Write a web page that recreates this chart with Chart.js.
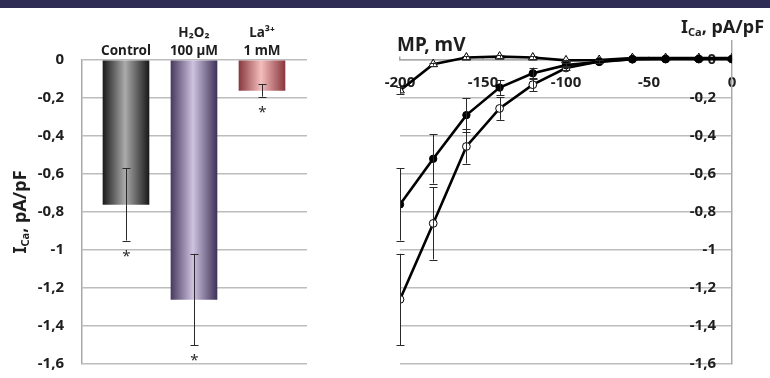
<!DOCTYPE html>
<html>
<head>
<meta charset="utf-8">
<script src="https://cdn.jsdelivr.net/npm/chart.js@4/dist/chart.umd.min.js"></script>
<style>
  html, body { margin: 0; padding: 0; background: #fff; }
  #wrap { position: relative; width: 770px; height: 378px; overflow: hidden; }
  #band { position: absolute; left: 0; top: 0; width: 770px; height: 8px; background: #2e2c54; }
  canvas { position: absolute; top: 0; }
  #bars { left: 0; }
  #iv { left: 385px; }
</style>
</head>
<body>
<div id="wrap">
  <canvas id="bars" width="385" height="378"></canvas>
  <canvas id="iv" width="385" height="378"></canvas>
  <div id="band"></div>
</div>
<script>
// ---- Bar panel: mean Ca current at -200 mV ----
const groups = [['Control'], ['H₂O₂', '100 µM'], ['La³⁺', '1 mM']];
const meanCurrent = [-0.76, -1.26, -0.16];
const meanSem = [0.19, 0.24, 0.033];
const yTicks = [0, -0.2, -0.4, -0.6, -0.8, -1, -1.2, -1.4, -1.6];
const yTickLabels = ['0', '-0,2', '-0,4', '-0,6', '-0,8', '-1', '-1,2', '-1,4', '-1,6'];

// ---- I-V panel ----
const voltage = [-200, -180, -160, -140, -120, -100, -80, -60, -40, -20, 0];
const controlIV = [-0.76, -0.52, -0.29, -0.145, -0.07, -0.027, -0.01, 0.004, 0.005, 0.005, 0.005];
const controlSem = [0.19, 0.13, 0.09, 0.04, 0.03, 0.012, 0.008, 0, 0, 0, 0];
const h2o2IV = [-1.26, -0.86, -0.455, -0.255, -0.13, -0.042, -0.008, 0.004, 0.005, 0.005, 0.005];
const h2o2Sem = [0.24, 0.19, 0.09, 0.06, 0.035, 0.012, 0.008, 0, 0, 0, 0];
const laIV = [-0.16, -0.022, 0.013, 0.018, 0.013, -0.002, 0.0, 0.01, 0.01, 0.01, 0.01];
const laSem = [0.017, 0.008, 0.006, 0.006, 0.006, 0.004, 0, 0, 0, 0, 0];
const voltTicks = [-200, -150, -100, -50, 0];
const voltTickLabels = ['-200', '-150', '-100', '-50', '0'];

const FONT = "'Noto Sans', 'Open Sans', 'DejaVu Sans', sans-serif";
const INK = '#1e1e1e';
const GRID = '#bdbdbd';
const AXIS = '#a9a9a9';

// cylinder-like shading for each bar: edge, centre, edge
const barShades = [
  ['#1c1c1c', '#ababab', '#1a1a1a'],
  ['#483b60', '#cec2e0', '#3f3458'],
  ['#893a40', '#f4bdbd', '#8a383d']
];
const BAR_W = 46;

// error bars (and optional significance stars) drawn from dataset values
const errorBars = {
  id: 'errorBars',
  afterDatasetsDraw(chart) {
    const { ctx } = chart;
    const ys = chart.scales.y;
    ctx.save();
    ctx.strokeStyle = '#2a2a2a';
    ctx.lineWidth = 1;
    chart.data.datasets.forEach((ds, di) => {
      if (!ds.errors) return;
      const meta = chart.getDatasetMeta(di);
      meta.data.forEach((el, i) => {
        const e = ds.errors[i];
        const val = ds.data[i].y;
        const x = Math.round(el.x) + 0.5;
        if (e) {
          const yT = ys.getPixelForValue(val + e);
          const yB = ys.getPixelForValue(val - e);
          ctx.beginPath();
          ctx.moveTo(x, yT); ctx.lineTo(x, yB);
          ctx.moveTo(x - 4, Math.round(yT) + 0.5); ctx.lineTo(x + 4, Math.round(yT) + 0.5);
          ctx.moveTo(x - 4, Math.round(yB) + 0.5); ctx.lineTo(x + 4, Math.round(yB) + 0.5);
          ctx.stroke();
        }
        if (ds.stars && ds.stars[i]) {
          const yB = ys.getPixelForValue(val - (e || 0));
          ctx.fillStyle = '#2a2a2a';
          ctx.font = '15px ' + FONT;
          ctx.textAlign = 'center';
          ctx.textBaseline = 'alphabetic';
          ctx.fillText('*', x, yB + 20);
        }
      });
    });
    ctx.restore();
  }
};

// text with a subscript part, e.g. I_Ca
function drawRich(ctx, parts, x, y, align) {
  let total = 0;
  parts.forEach(p => { ctx.font = 'bold ' + p.size + 'px ' + FONT; p.w = ctx.measureText(p.t).width; total += p.w; });
  let cx = align === 'center' ? x - total / 2 : x;
  ctx.textAlign = 'left';
  ctx.textBaseline = 'alphabetic';
  parts.forEach(p => {
    ctx.font = 'bold ' + p.size + 'px ' + FONT;
    ctx.fillText(p.t, cx, y + (p.dy || 0));
    cx += p.w;
  });
}
const currentTitle = () => [
  { t: 'I', size: 18 },
  { t: 'Ca', size: 11, dy: 3 },
  { t: ', pA/pF', size: 18 }
];

const barTitles = {
  id: 'barTitles',
  afterDraw(chart) {
    const { ctx, chartArea } = chart;
    ctx.save();
    ctx.fillStyle = INK;
    ctx.translate(26, (chartArea.top + chartArea.bottom) / 2);
    ctx.rotate(-Math.PI / 2);
    drawRich(ctx, currentTitle(), 0, 0, 'center');
    ctx.restore();
  }
};

const ivTitles = {
  id: 'ivTitles',
  afterDraw(chart) {
    const { ctx } = chart;
    ctx.save();
    ctx.fillStyle = INK;
    drawRich(ctx, [{ t: 'MP, mV', size: 19 }], 12, 51, 'left');
    drawRich(ctx, currentTitle(), 296, 33, 'left');
    ctx.restore();
  }
};

const tickFont = { family: FONT, size: 15, weight: 'bold' };

new Chart(document.getElementById('bars'), {
  type: 'bar',
  data: {
    datasets: [{
      data: meanCurrent.map((v, i) => ({ x: i, y: v })),
      errors: meanSem,
      stars: [true, true, true],
      barThickness: BAR_W,
      borderWidth: 0,
      backgroundColor: (c) => {
        const chart = c.chart;
        const xs = chart.scales.x;
        const idx = c.dataIndex || 0;
        const s = barShades[idx];
        if (!chart.chartArea || !xs) return s[1];
        const cx = xs.getPixelForValue(idx);
        const g = chart.ctx.createLinearGradient(cx - BAR_W / 2, 0, cx + BAR_W / 2, 0);
        g.addColorStop(0, s[0]);
        g.addColorStop(0.48, s[1]);
        g.addColorStop(1, s[2]);
        return g;
      }
    }]
  },
  options: {
    responsive: false,
    animation: false,
    devicePixelRatio: 1,
    layout: { padding: { left: 0, top: 4, right: 78, bottom: 14 } },
    plugins: { legend: { display: false }, tooltip: { enabled: false } },
    scales: {
      x: {
        type: 'linear',
        position: 'top',
        offset: false,
        bounds: 'data',
        min: -0.647,
        max: 2.662,
        afterBuildTicks: (s) => { s.ticks = groups.map((_, i) => ({ value: i })); },
        afterFit: (s) => { s.height = 56; s.paddingLeft = 0; s.paddingRight = 0; },
        ticks: {
          callback: (v, i) => groups[i],
          font: { family: FONT, size: 13.5, weight: 'bold', lineHeight: 1.33 },
          color: INK,
          padding: 0,
          maxRotation: 0,
          autoSkip: false
        },
        grid: { display: false, drawTicks: false, offset: false },
        border: { display: false }
      },
      y: {
        min: -1.6,
        max: 0,
        afterBuildTicks: (s) => { s.ticks = yTicks.map(v => ({ value: v })); },
        afterFit: (s) => { s.width = 82; s.paddingTop = 0; s.paddingBottom = 0; },
        ticks: {
          callback: (v, i) => yTickLabels[i],
          font: tickFont,
          color: INK,
          padding: 18
        },
        grid: { color: GRID, lineWidth: 1.5, drawTicks: false },
        border: { color: AXIS, width: 1.5 }
      }
    }
  },
  plugins: [errorBars, barTitles]
});

const seriesStyle = (fill, style, radius) => ({
  showLine: true,
  borderColor: '#000',
  borderWidth: 2.6,
  pointStyle: style,
  pointRadius: radius,
  pointBackgroundColor: fill,
  pointBorderColor: '#000',
  pointBorderWidth: 1
});

new Chart(document.getElementById('iv'), {
  type: 'scatter',
  data: {
    datasets: [
      Object.assign({ data: voltage.map((v, i) => ({ x: v, y: controlIV[i] })), errors: controlSem }, seriesStyle('#000', 'circle', 3.7)),
      Object.assign({ data: voltage.map((v, i) => ({ x: v, y: h2o2IV[i] })), errors: h2o2Sem }, seriesStyle('#fff', 'circle', 3.9)),
      Object.assign({ data: voltage.map((v, i) => ({ x: v, y: laIV[i] })), errors: laSem }, seriesStyle('#fff', 'triangle', 5))
    ]
  },
  options: {
    responsive: false,
    animation: false,
    devicePixelRatio: 1,
    layout: { padding: { left: 15, top: 41, right: 0, bottom: 14 } },
    plugins: { legend: { display: false }, tooltip: { enabled: false } },
    scales: {
      x: {
        type: 'linear',
        position: { y: 0 },
        min: -200,
        max: 0,
        afterBuildTicks: (s) => { s.ticks = voltTicks.map(v => ({ value: v })); },
        afterFit: (s) => { s.height = 0; s.paddingLeft = 0; s.paddingRight = 0; },
        ticks: {
          callback: (v, i) => voltTickLabels[i],
          font: tickFont,
          color: INK,
          padding: 18,
          maxRotation: 0,
          autoSkip: false
        },
        grid: { drawOnChartArea: false, drawTicks: true, tickLength: -4, color: AXIS, lineWidth: 1.5 },
        border: { color: AXIS, width: 1.5 }
      },
      y: {
        position: 'right',
        min: -1.6,
        max: 0.1,
        afterBuildTicks: (s) => { s.ticks = yTicks.map(v => ({ value: v })); },
        afterFit: (s) => { s.width = 38; s.paddingTop = 0; s.paddingBottom = 0; },
        ticks: {
          callback: (v, i) => yTickLabels[i],
          font: tickFont,
          color: INK,
          mirror: true,
          padding: -16
        },
        grid: { color: GRID, lineWidth: 1.5, drawTicks: false },
        border: { color: AXIS, width: 1.5 }
      }
    }
  },
  plugins: [errorBars, ivTitles]
});
</script>
</body>
</html>
